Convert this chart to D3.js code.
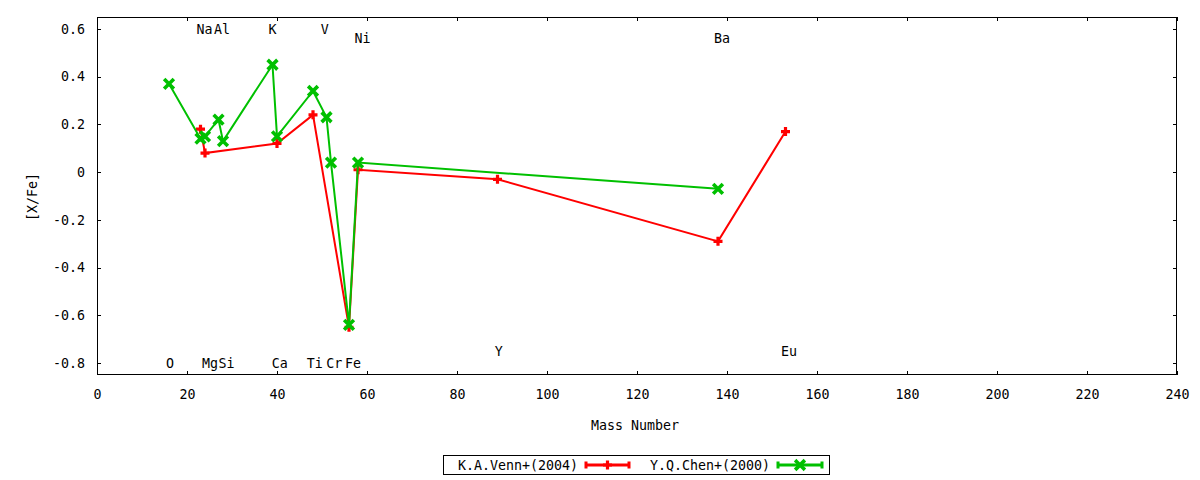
<!DOCTYPE html>
<html>
<head>
<meta charset="utf-8">
<script src="https://cdn.jsdelivr.net/npm/d3@7"></script>
<style>
  html, body { margin: 0; padding: 0; background: #fff; }
  svg text { font-family: "DejaVu Sans Mono", monospace; font-size: 13.3px; fill: #000; }
</style>
</head>
<body>
<svg id="chart" width="1200" height="480"></svg>
<script>
// ---- data ----
const vennMass  = [23, 24, 40, 48, 56, 58, 89, 138, 153];
const vennXFe   = [0.18, 0.08, 0.12, 0.24, -0.65, 0.01, -0.03, -0.29, 0.17];
const chenMass  = [16, 23, 24, 27, 28, 39, 40, 48, 51, 52, 56, 58, 138];
const chenXFe   = [0.37, 0.14, 0.15, 0.22, 0.13, 0.45, 0.15, 0.34, 0.23, 0.04, -0.64, 0.04, -0.07];
const labelText = ["Na", "Al", "K", "V", "Ni", "Ba", "O", "Mg", "Si", "Ca", "Ti", "Cr", "Fe", "Y", "Eu"];
const labelX    = [23.9, 27.8, 39.0, 50.6, 59.0, 138.9, 16.2, 25.1, 28.8, 40.6, 48.4, 52.7, 56.9, 89.3, 153.8];
const labelY    = [0.6, 0.6, 0.6, 0.6, 0.56, 0.56, -0.8, -0.8, -0.8, -0.8, -0.8, -0.8, -0.8, -0.75, -0.75];
const xTicks    = [0, 20, 40, 60, 80, 100, 120, 140, 160, 180, 200, 220, 240];
const yTicks    = [-0.8, -0.6, -0.4, -0.2, 0, 0.2, 0.4, 0.6];
const seriesNames = ["K.A.Venn+(2004)", "Y.Q.Chen+(2000)"];

// ---- layout ----
const L = 97, R = 1177, T = 17, B = 375;
const RED = "#ff0000", GREEN = "#00c000";
const svg = d3.select("#chart");
const x = d3.scaleLinear().domain([0, 240]).range([L, R]);
const y = d3.scaleLinear().domain([-0.85, 0.65]).range([B, T]);
const fmtY = d => d === 0 ? "0" : d.toFixed(1);

// axes (inward ticks, mirrored)
const gx = svg.append("g").attr("transform", `translate(0,${B})`)
  .call(d3.axisBottom(x).tickValues(xTicks).tickSizeInner(-4).tickSizeOuter(0).tickPadding(15).tickFormat(d3.format("d")));
const gxt = svg.append("g").attr("transform", `translate(0,${T})`)
  .call(d3.axisTop(x).tickValues(xTicks).tickSizeInner(-4).tickSizeOuter(0).tickFormat(""));
const gy = svg.append("g").attr("transform", `translate(${L},0)`)
  .call(d3.axisLeft(y).tickValues(yTicks).tickSizeInner(-4).tickSizeOuter(0).tickPadding(12).tickFormat(fmtY));
const gyr = svg.append("g").attr("transform", `translate(${R},0)`)
  .call(d3.axisRight(y).tickValues(yTicks).tickSizeInner(-4).tickSizeOuter(0).tickFormat(""));
[gx, gxt, gy, gyr].forEach(g => {
  g.select(".domain").remove();
  g.selectAll("line").attr("stroke", "#000").attr("stroke-width", 1).attr("shape-rendering", "crispEdges");
  g.selectAll("text").attr("font-family", null).attr("font-size", null).style("font-family", "DejaVu Sans Mono").style("font-size", "13.3px");
});

// frame
svg.append("rect").attr("x", L + 0.5).attr("y", T + 0.5).attr("width", R - L - 1).attr("height", B - T - 1)
  .attr("fill", "none").attr("stroke", "#000").attr("stroke-width", 1).attr("shape-rendering", "crispEdges");

// axis titles
svg.append("text").attr("x", (L + R) / 2 - 2).attr("y", 430).attr("text-anchor", "middle").text("Mass Number");
svg.append("text").attr("transform", `translate(37,${(T + B) / 2 + 1}) rotate(-90)`).attr("text-anchor", "middle").text("[X/Fe]");

// element labels
svg.append("g").selectAll("text").data(labelText).join("text")
  .attr("x", (d, i) => x(labelX[i])).attr("y", (d, i) => y(labelY[i]))
  .attr("dy", "0.36em").attr("text-anchor", "middle").text(d => d);

// markers
function plus(g, cx, cy, color) {
  const s = 4.5;
  g.append("path").attr("d", `M${cx - s},${cy}H${cx + s}M${cx},${cy - s}V${cy + s}`)
    .attr("stroke", color).attr("stroke-width", 3.2).attr("fill", "none");
}
function cross(g, cx, cy, color) {
  const s = 3.6;
  g.append("path").attr("d", `M${cx - s},${cy - s}L${cx + s},${cy + s}M${cx - s},${cy + s}L${cx + s},${cy - s}`)
    .attr("stroke", color).attr("stroke-width", 3.6).attr("stroke-linecap", "square").attr("fill", "none");
}

const line = d3.line().x(d => x(d[0])).y(d => y(d[1]));
const vennPts = vennMass.map((m, i) => [m, vennXFe[i]]);
const chenPts = chenMass.map((m, i) => [m, chenXFe[i]]);

const gVenn = svg.append("g");
gVenn.append("path").datum(vennPts).attr("d", line).attr("fill", "none").attr("stroke", RED).attr("stroke-width", 2);
vennPts.forEach(p => plus(gVenn, x(p[0]), y(p[1]), RED));

const gChen = svg.append("g");
gChen.append("path").datum(chenPts).attr("d", line).attr("fill", "none").attr("stroke", GREEN).attr("stroke-width", 2);
chenPts.forEach(p => cross(gChen, x(p[0]), y(p[1]), GREEN));

// legend
const lg = svg.append("g");
lg.append("rect").attr("x", 443.5).attr("y", 455.5).attr("width", 386).attr("height", 19)
  .attr("fill", "#fff").attr("stroke", "#000").attr("stroke-width", 1).attr("shape-rendering", "crispEdges");
const legendItems = [
  { name: seriesNames[0], color: RED, textEnd: 578, x0: 586, x1: 629, mark: plus },
  { name: seriesNames[1], color: GREEN, textEnd: 770, x0: 778, x1: 822, mark: cross }
];
legendItems.forEach(it => {
  const cy = 465;
  lg.append("text").attr("x", it.textEnd).attr("y", cy).attr("dy", "0.36em").attr("text-anchor", "end").text(it.name);
  lg.append("path").attr("d", `M${it.x0},${cy}H${it.x1}M${it.x0},${cy - 3.5}V${cy + 3.5}M${it.x1},${cy - 3.5}V${cy + 3.5}`)
    .attr("stroke", it.color).attr("stroke-width", 3).attr("fill", "none");
  it.mark(lg, (it.x0 + it.x1) / 2, cy, it.color);
});
</script>
</body>
</html>
